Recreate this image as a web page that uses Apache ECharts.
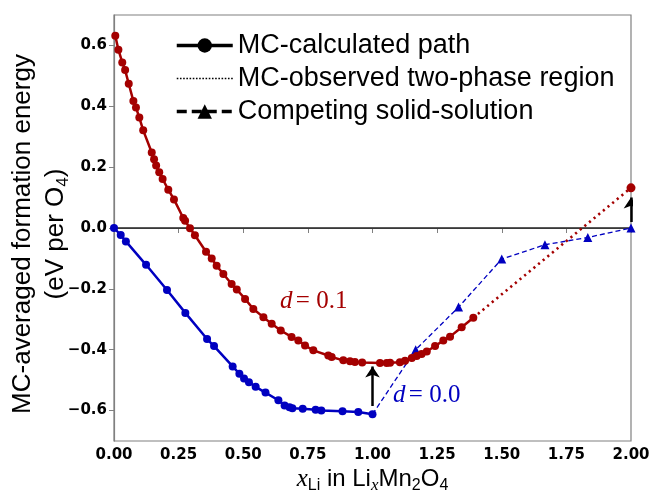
<!DOCTYPE html>
<html>
<head>
<meta charset="utf-8">
<script src="https://cdn.jsdelivr.net/npm/echarts@6/dist/echarts.min.js"></script>
<style>html,body{margin:0;padding:0;background:#fff}#c{width:653px;height:491px}</style>
</head>
<body>
<div id="c"></div>
<script>
// ---- data ----
const redPathX = [0.005,0.017,0.032,0.043,0.057,0.075,0.085,0.098,0.113,0.146,0.155,0.163,0.175,0.188,0.210,0.232,0.268,0.275,0.294,0.313,0.356,0.378,0.397,0.423,0.455,0.475,0.507,0.539,0.578,0.610,0.645,0.687,0.713,0.739,0.771,0.829,0.842,0.887,0.913,0.932,0.960,1.029,1.055,1.068,1.106,1.126,1.152,1.171,1.190,1.210,1.242,1.274,1.300,1.345,1.390];
const redPathY = [0.632,0.586,0.544,0.519,0.474,0.417,0.396,0.363,0.321,0.248,0.226,0.205,0.183,0.161,0.126,0.094,0.033,0.024,-0.001,-0.024,-0.078,-0.100,-0.124,-0.151,-0.184,-0.202,-0.233,-0.266,-0.293,-0.315,-0.337,-0.358,-0.370,-0.386,-0.402,-0.419,-0.424,-0.435,-0.438,-0.440,-0.442,-0.444,-0.444,-0.443,-0.441,-0.436,-0.427,-0.421,-0.414,-0.406,-0.388,-0.370,-0.357,-0.326,-0.295];
const redTwoPhaseX = [1.390, 2.000];
const redTwoPhaseY = [-0.295, 0.132];
const bluePathX = [0.000,0.026,0.046,0.124,0.205,0.276,0.360,0.387,0.459,0.485,0.503,0.522,0.548,0.586,0.636,0.660,0.679,0.690,0.730,0.780,0.802,0.884,0.945,1.000];
const bluePathY = [0.000,-0.023,-0.044,-0.121,-0.204,-0.279,-0.365,-0.388,-0.455,-0.479,-0.495,-0.507,-0.522,-0.541,-0.566,-0.583,-0.589,-0.592,-0.594,-0.597,-0.600,-0.602,-0.605,-0.612];
const competingX = [1.000,1.167,1.333,1.500,1.667,1.833,2.000];
const competingY = [-0.612,-0.400,-0.260,-0.102,-0.055,-0.031,0.000];
const arrow1 = [[1.0,-0.585],[1.0,-0.455]];
const arrow2 = [[2.0,0.020],[2.0,0.100]];
const yTicks = [-0.6,-0.4,-0.2,0.0,0.2,0.4,0.6];
const legendNames = ['MC-calculated path','MC-observed two-phase region','Competing solid-solution'];

const RED = '#a40000', BLUE = '#0000c0';
const pairs = (xs, ys) => xs.map((x, i) => [x, ys[i]]);

const chart = echarts.init(document.getElementById('c'), null, {renderer: 'canvas'});
const sans = 'Liberation Sans, Arial, sans-serif';
const serif = 'Liberation Serif, Times New Roman, serif';

chart.setOption({
  animation: false,
  backgroundColor: '#fff',
  grid: {left: 114, right: 22, top: 15, bottom: 50, show: true, borderColor: '#808080', borderWidth: 1.2,
         containLabel: false, outerBoundsMode: 'none'},
  legend: {
    data: [
      {name: legendNames[0], lineStyle: {width: 3.5}},
      {name: legendNames[1], itemStyle: {opacity: 0}, lineStyle: {width: 1.6, type: [1.6, 1.6]}},
      {name: legendNames[2], lineStyle: {width: 3.5, type: [10, 5]}}
    ],
    orient: 'vertical', left: 170, top: 27,
    itemWidth: 56, itemHeight: 18, itemGap: 6,
    textStyle: {fontFamily: sans, fontSize: 27, color: '#000'}
  },
  xAxis: {
    type: 'value', min: 0, max: 2, interval: 0.25,
    axisLine: {show: true, lineStyle: {color: '#808080', width: 1.2}},
    axisTick: {show: true, length: 5, lineStyle: {color: '#808080'}},
    splitLine: {show: false},
    axisLabel: {fontFamily: 'DejaVu Sans', fontWeight: 'bold', fontSize: 15, color: '#000', margin: 7,
      formatter: v => v.toFixed(2)},
    name: '{i|x}{sub|Li}{t| in Li}{isub|x}{t|Mn}{sub|2}{t|O}{sub|4}',
    nameLocation: 'middle', nameGap: 23, nameMoveOverlap: false,
    nameTextStyle: {
      rich: {
        i: {fontFamily: serif, fontStyle: 'italic', fontSize: 25, lineHeight: 30, color: '#000'},
        t: {fontFamily: sans, fontSize: 24, lineHeight: 30, color: '#000'},
        sub: {fontFamily: sans, fontSize: 16, lineHeight: 14, verticalAlign: 'bottom', color: '#000'},
        isub: {fontFamily: serif, fontStyle: 'italic', fontSize: 17, lineHeight: 14, verticalAlign: 'bottom', color: '#000'}
      }
    }
  },
  yAxis: {
    type: 'value', min: -0.7, max: 0.7,
    axisLine: {show: true, lineStyle: {color: '#808080', width: 1.2}},
    axisTick: {show: true, length: 5, lineStyle: {color: '#808080'}, customValues: yTicks},
    splitLine: {show: false},
    axisLabel: {fontFamily: 'DejaVu Sans', fontWeight: 'bold', fontSize: 15, color: '#000', margin: 7,
      customValues: yTicks, formatter: v => v.toFixed(1).replace('-', '\u2212')},
    name: '{t|MC-averaged formation energy}\n{t|(eV per O}{sub|4}{t|)}',
    nameLocation: 'middle', nameRotate: 90, nameGap: 42, nameMoveOverlap: false,
    nameTextStyle: {
      padding: [0, 12, 0, 0],
      rich: {
        t: {fontFamily: sans, fontSize: 26, lineHeight: 33, color: '#000'},
        sub: {fontFamily: sans, fontSize: 17, lineHeight: 15, verticalAlign: 'bottom', color: '#000'}
      }
    }
  },
  series: [
    {name: legendNames[0], type: 'line', data: [], symbol: 'circle',
     itemStyle: {color: '#000'}, lineStyle: {color: '#000', width: 3.5}},
    {name: legendNames[1], type: 'line', data: [], symbol: 'none',
     itemStyle: {color: '#000', opacity: 0}, lineStyle: {color: '#000', width: 1.6, type: [1.6, 1.6]}},
    {name: legendNames[2], type: 'line', data: [], symbol: 'triangle',
     itemStyle: {color: '#000'}, lineStyle: {color: '#000', width: 3.5, type: [10, 5]}},
    {name: 'zero', type: 'line', data: [[0, 0], [2, 0]], symbol: 'none', z: 1,
     lineStyle: {color: '#222', width: 1.3}},
    {name: 'redTwoPhase', type: 'line', z: 2,
     data: pairs(redTwoPhaseX, redTwoPhaseY).map((p, i) => i === 0 ? {value: p, symbol: 'none'} : p),
     symbol: 'circle', symbolSize: 9, itemStyle: {color: RED},
     lineStyle: {color: RED, width: 2.6, type: [2.2, 3.8]}},
    {name: 'competing', type: 'line', z: 3,
     data: pairs(competingX, competingY).map((p, i) => i === 0 ? {value: p, symbol: 'none'} : p),
     symbol: 'triangle', symbolSize: 9, itemStyle: {color: BLUE},
     lineStyle: {color: BLUE, width: 1.3, type: [5, 3]}},
    {name: 'redPath', type: 'line', z: 4, data: pairs(redPathX, redPathY),
     symbol: 'circle', symbolSize: 8, itemStyle: {color: RED},
     lineStyle: {color: RED, width: 2.5}},
    {name: 'bluePath', type: 'line', z: 4, data: pairs(bluePathX, bluePathY),
     symbol: 'circle', symbolSize: 8, itemStyle: {color: BLUE},
     lineStyle: {color: BLUE, width: 2.5}},
    {name: 'arrows', type: 'lines', coordinateSystem: 'cartesian2d', z: 5,
     symbol: ['none', 'arrow'], symbolSize: 11,
     lineStyle: {color: '#000', width: 2.5, opacity: 1},
     data: [{coords: arrow1}, {coords: arrow2}]}
  ],
  graphic: [
    {type: 'text', left: 280, top: 289, style: {
      text: '{i|d} {t|= 0.1}', fill: RED,
      rich: {i: {fontFamily: serif, fontStyle: 'italic', fontSize: 25, fill: RED},
             t: {fontFamily: serif, fontSize: 25, fill: RED}}}},
    {type: 'text', left: 393, top: 383, style: {
      text: '{i|d} {t|= 0.0}', fill: BLUE,
      rich: {i: {fontFamily: serif, fontStyle: 'italic', fontSize: 25, fill: BLUE},
             t: {fontFamily: serif, fontSize: 25, fill: BLUE}}}}
  ]
});
</script>
</body>
</html>
